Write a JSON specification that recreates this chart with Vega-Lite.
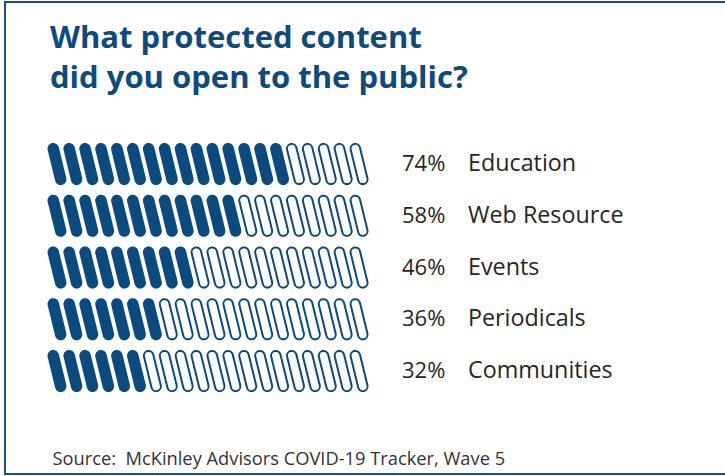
{
  "$schema": "https://vega.github.io/schema/vega-lite/v6.json",
  "width": 725,
  "height": 472,
  "autosize": {"type": "none"},
  "padding": {"left": 5, "top": 2, "right": 0, "bottom": 2},
  "background": "white",
  "config": {
    "view": {"stroke": "#1f4e7e", "strokeWidth": 2},
    "font": "Open Sans"
  },
  "title": {
    "text": ["What protected content", "did you open to the public?"],
    "anchor": "start",
    "orient": "top",
    "frame": "group",
    "offset": -93,
    "dx": 45,
    "font": "Open Sans",
    "fontSize": 31,
    "fontWeight": "bold",
    "color": "#0e4a7b",
    "lineHeight": 40
  },
  "datasets": {
    "pills": [
      {"r":1,"i":1,"f":1},{"r":1,"i":2,"f":1},{"r":1,"i":3,"f":1},{"r":1,"i":4,"f":1},{"r":1,"i":5,"f":1},{"r":1,"i":6,"f":1},{"r":1,"i":7,"f":1},{"r":1,"i":8,"f":1},{"r":1,"i":9,"f":1},{"r":1,"i":10,"f":1},{"r":1,"i":11,"f":1},{"r":1,"i":12,"f":1},{"r":1,"i":13,"f":1},{"r":1,"i":14,"f":1},{"r":1,"i":15,"f":1},{"r":1,"i":16,"f":0},{"r":1,"i":17,"f":0},{"r":1,"i":18,"f":0},{"r":1,"i":19,"f":0},{"r":1,"i":20,"f":0},
      {"r":2,"i":1,"f":1},{"r":2,"i":2,"f":1},{"r":2,"i":3,"f":1},{"r":2,"i":4,"f":1},{"r":2,"i":5,"f":1},{"r":2,"i":6,"f":1},{"r":2,"i":7,"f":1},{"r":2,"i":8,"f":1},{"r":2,"i":9,"f":1},{"r":2,"i":10,"f":1},{"r":2,"i":11,"f":1},{"r":2,"i":12,"f":1},{"r":2,"i":13,"f":0},{"r":2,"i":14,"f":0},{"r":2,"i":15,"f":0},{"r":2,"i":16,"f":0},{"r":2,"i":17,"f":0},{"r":2,"i":18,"f":0},{"r":2,"i":19,"f":0},{"r":2,"i":20,"f":0},
      {"r":3,"i":1,"f":1},{"r":3,"i":2,"f":1},{"r":3,"i":3,"f":1},{"r":3,"i":4,"f":1},{"r":3,"i":5,"f":1},{"r":3,"i":6,"f":1},{"r":3,"i":7,"f":1},{"r":3,"i":8,"f":1},{"r":3,"i":9,"f":1},{"r":3,"i":10,"f":0},{"r":3,"i":11,"f":0},{"r":3,"i":12,"f":0},{"r":3,"i":13,"f":0},{"r":3,"i":14,"f":0},{"r":3,"i":15,"f":0},{"r":3,"i":16,"f":0},{"r":3,"i":17,"f":0},{"r":3,"i":18,"f":0},{"r":3,"i":19,"f":0},{"r":3,"i":20,"f":0},
      {"r":4,"i":1,"f":1},{"r":4,"i":2,"f":1},{"r":4,"i":3,"f":1},{"r":4,"i":4,"f":1},{"r":4,"i":5,"f":1},{"r":4,"i":6,"f":1},{"r":4,"i":7,"f":1},{"r":4,"i":8,"f":0},{"r":4,"i":9,"f":0},{"r":4,"i":10,"f":0},{"r":4,"i":11,"f":0},{"r":4,"i":12,"f":0},{"r":4,"i":13,"f":0},{"r":4,"i":14,"f":0},{"r":4,"i":15,"f":0},{"r":4,"i":16,"f":0},{"r":4,"i":17,"f":0},{"r":4,"i":18,"f":0},{"r":4,"i":19,"f":0},{"r":4,"i":20,"f":0},
      {"r":5,"i":1,"f":1},{"r":5,"i":2,"f":1},{"r":5,"i":3,"f":1},{"r":5,"i":4,"f":1},{"r":5,"i":5,"f":1},{"r":5,"i":6,"f":1},{"r":5,"i":7,"f":0},{"r":5,"i":8,"f":0},{"r":5,"i":9,"f":0},{"r":5,"i":10,"f":0},{"r":5,"i":11,"f":0},{"r":5,"i":12,"f":0},{"r":5,"i":13,"f":0},{"r":5,"i":14,"f":0},{"r":5,"i":15,"f":0},{"r":5,"i":16,"f":0},{"r":5,"i":17,"f":0},{"r":5,"i":18,"f":0},{"r":5,"i":19,"f":0},{"r":5,"i":20,"f":0}
    ],
    "cats": [
      {"r":1,"pct":"74%","name":"Education"},
      {"r":2,"pct":"58%","name":"Web Resource"},
      {"r":3,"pct":"46%","name":"Events"},
      {"r":4,"pct":"36%","name":"Periodicals"},
      {"r":5,"pct":"32%","name":"Communities"}
    ]
  },
  "layer": [
    {
      "data": {"name": "pills"},
      "mark": {"type": "rule", "color": "#0b4a7c", "strokeWidth": 11.5, "strokeCap": "round", "xOffset": -3.75, "x2Offset": 3.75, "yOffset": -15.3, "y2Offset": 15.3},
      "encoding": {
        "x": {"field": "i", "type": "quantitative", "scale": {"domain": [-2.27, 43.33], "nice": false, "zero": false},
          "axis": {"orient": "bottom", "domain": false, "ticks": false, "labels": false, "grid": false,
            "title": "Source:\u00a0 McKinley Advisors COVID-19 Tracker, Wave 5",
            "titleAnchor": "start", "titleAlign": "left", "titleX": 47, "titleY": -10, "titleBaseline": "alphabetic",
            "titleFont": "Open Sans", "titleFontSize": 18.3, "titleFontWeight": "normal", "titleColor": "#333333"}},
        "x2": {"field": "i"},
        "y": {"field": "r", "type": "quantitative", "scale": {"domain": [-2.13, 6.99], "reverse": true, "nice": false, "zero": false}, "axis": null},
        "y2": {"field": "r"}
      }
    },
    {
      "data": {"name": "pills"},
      "transform": [{"filter": "datum.f == 0"}],
      "mark": {"type": "rule", "color": "white", "strokeWidth": 7.5, "strokeCap": "round", "xOffset": -3.75, "x2Offset": 3.75, "yOffset": -15.3, "y2Offset": 15.3},
      "encoding": {
        "x": {"field": "i", "type": "quantitative"},
        "x2": {"field": "i"},
        "y": {"field": "r", "type": "quantitative"},
        "y2": {"field": "r"}
      }
    },
    {
      "data": {"name": "cats"},
      "mark": {"type": "text", "align": "left", "baseline": "middle", "font": "Open Sans", "fontSize": 22, "color": "#262626"},
      "encoding": {
        "x": {"datum": 22.7, "type": "quantitative"},
        "y": {"field": "r", "type": "quantitative"},
        "text": {"field": "pct"}
      }
    },
    {
      "data": {"name": "cats"},
      "mark": {"type": "text", "align": "left", "baseline": "middle", "font": "Open Sans", "fontSize": 23.3, "color": "#262626"},
      "encoding": {
        "x": {"datum": 26.85, "type": "quantitative"},
        "y": {"field": "r", "type": "quantitative"},
        "text": {"field": "name"}
      }
    }
  ]
}
